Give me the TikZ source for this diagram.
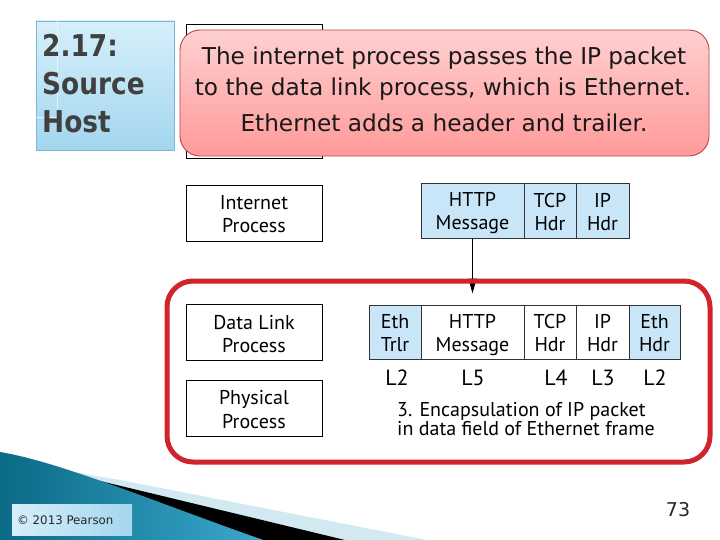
\documentclass[tikz,border=0pt]{standalone}
\usepackage{fontspec}
\setmainfont{PT Sans}
\newfontfamily\calloutfont{DejaVu Sans}
\newfontfamily\smallfont{DejaVu Sans}
\newfontfamily\titlefont[FakeStretch=0.88]{DejaVu Sans}
\usetikzlibrary{arrows.meta}
\definecolor{titletop}{HTML}{D6EFFB}
\definecolor{titlebot}{HTML}{A3D6EE}
\definecolor{titleborder}{HTML}{7AB8D6}
\definecolor{titletext}{HTML}{404040}
\definecolor{callouttop}{HTML}{FFD0D0}
\definecolor{calloutbot}{HTML}{FF9A9A}
\definecolor{calloutborder}{HTML}{B54848}
\definecolor{cellblue}{HTML}{C9E6F8}
\definecolor{framered}{HTML}{D0232B}
\definecolor{tealdark}{HTML}{0B6A86}
\definecolor{teallight}{HTML}{3AA8CC}
\definecolor{lightband}{HTML}{D2E9F2}
\newcommand\cellstrut{\rule[-3.5pt]{0pt}{23pt}}
\newcommand\twoln[2]{\cellstrut #1\\\cellstrut #2}
\tikzset{
  procbox/.style={draw=black, line width=0.9pt, fill=white, minimum width=136pt, minimum height=56pt, align=center, font=\fontsize{20}{23}\selectfont, inner sep=0pt},
  cell/.style={draw=black!80, line width=0.9pt, minimum height=55pt, align=center, font=\fontsize{20}{23}\selectfont, inner sep=0pt},
  bluecell/.style={cell, fill=cellblue},
  whitecell/.style={cell, fill=white},
  lay/.style={font=\fontsize{22}{24}\selectfont},
  calltext/.style={font=\calloutfont\fontsize{23.2}{26}\selectfont, text=black!90},
}
\begin{document}
\begin{tikzpicture}[x=1pt,y=-1pt]
\useasboundingbox (0,0) rectangle (720,540);
\fill[white] (0,0) rectangle (720,540);
% bottom-left decoration
\fill[lightband] (38,466) -- (120,480) -- (427,540) -- (290,540) -- cycle;
\fill[black] (38,466) -- (345,540) -- (263,540) -- (120,492) -- cycle;
\shade[left color=tealdark, right color=teallight] (0,452) .. controls (60,462) and (150,500) .. (263,540) -- (0,540) -- cycle;
\node[draw=none, left color=titletop, right color=titlebot, minimum width=120pt, minimum height=31pt, inner sep=0pt] (copy) at (72,519.5) {};
\node[anchor=west, font=\smallfont\fontsize{11.8}{13}\selectfont, text=black!85, inner sep=0pt] (copytext) at (17,520) {© 2013 Pearson};
\node[font=\smallfont\fontsize{19}{21}\selectfont, text=black!85] (pagenum) at (678,510) {73};
% title
\node[draw=titleborder, line width=0.8pt, top color=titletop, bottom color=titlebot, minimum width=138pt, minimum height=129pt, inner sep=0pt] (title) at (105,85.5) {};
\draw[white, opacity=0.6, line width=0.6pt] (57,21) -- (57,117) -- (36,117);
\node[anchor=west, font=\titlefont\bfseries\fontsize{30}{38}\selectfont, text=titletext, align=left, inner sep=0pt] (titletext) at (42,84) {2.17:\\Source\\Host};
% hidden application box
\node[procbox, minimum height=134pt] (appbox) at (254,91) {};
% callout
\draw[calloutborder, line width=0.9pt, top color=callouttop, bottom color=calloutbot, rounded corners=20pt] (180,30) rectangle (709,156);
\node[calltext] (c1) at (444,58.5) {The internet process passes the IP packet};
\node[calltext] (c2) at (443,89) {to the data link process, which is Ethernet.};
\node[calltext] (c3) at (444,122.5) {Ethernet adds a header and trailer.};
% process boxes
\node[procbox] (inet) at (254,213) {\twoln{Internet}{Process}};
\node[procbox] (dlink) at (254,332.5) {\twoln{Data Link}{Process}};
\node[procbox] (phys) at (254,408.5) {\twoln{Physical}{Process}};
% packet row 1
\node[bluecell, minimum width=103pt] (h1) at (472.5,210.5) {\twoln{HTTP}{Message}};
\node[bluecell, minimum width=52pt] (t1) at (550,210.5) {\twoln{TCP}{Hdr}};
\node[bluecell, minimum width=53pt] (i1) at (602.5,210.5) {\twoln{IP}{Hdr}};
% arrow
\coordinate (arrowend) at (472.5,293.5);
\draw[line width=1.2pt, -{Triangle[length=15pt,width=8pt]}] (h1.south) -- (arrowend);
% red frame
\draw[framered, line width=5pt, rounded corners=26pt] (167,281) rectangle (710,462);
% packet row 2
\node[bluecell, minimum width=52pt, minimum height=54pt] (et) at (395,332) {\twoln{Eth}{Trlr}};
\node[whitecell, minimum width=103pt, minimum height=54pt] (h2) at (472.5,332) {\twoln{HTTP}{Message}};
\node[whitecell, minimum width=52pt, minimum height=54pt] (t2) at (550,332) {\twoln{TCP}{Hdr}};
\node[whitecell, minimum width=53pt, minimum height=54pt] (i2) at (602.5,332) {\twoln{IP}{Hdr}};
\node[bluecell, minimum width=51pt, minimum height=54pt] (eh) at (654.5,332) {\twoln{Eth}{Hdr}};
% layer labels
\node[lay] (l2a) at (397,378) {L2};
\node[lay] (l5) at (473,378) {L5};
\node[lay] (l4) at (556,378) {L4};
\node[lay] (l3) at (603,378) {L3};
\node[lay] (l2b) at (655,378) {L2};
\node[anchor=north west, align=left, font=\fontsize{20}{19.5}\selectfont, inner sep=0pt] (enc) at (397,402) {3. Encapsulation of IP packet\\in data field of Ethernet frame};
\end{tikzpicture}
\end{document}
